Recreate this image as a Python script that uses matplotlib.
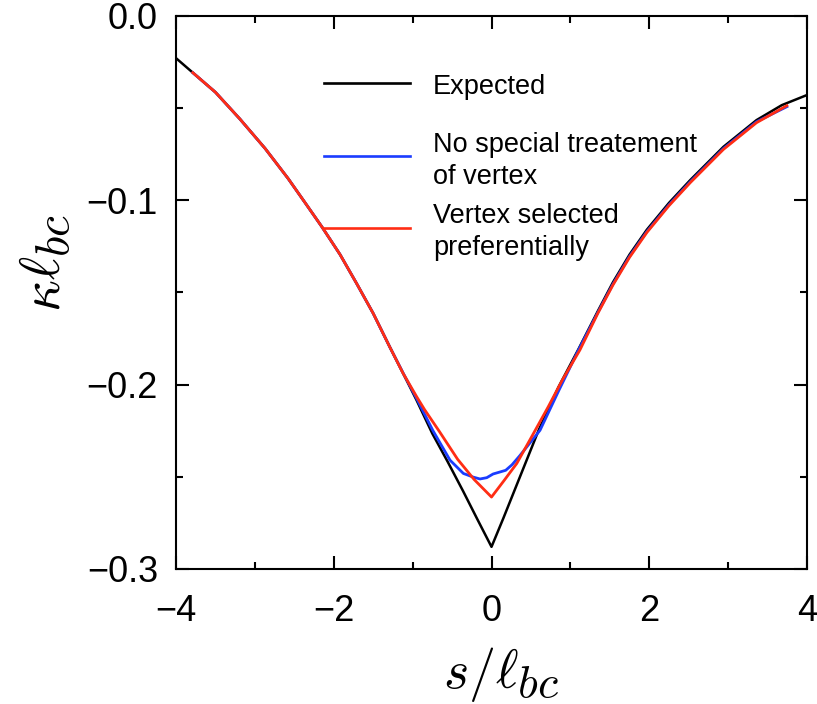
import matplotlib
matplotlib.use("Agg")
import matplotlib.pyplot as plt
import matplotlib._mathtext as _mt
from matplotlib.ticker import MultipleLocator, FixedLocator
from matplotlib.lines import Line2D

plt.rcParams['font.family'] = ['Liberation Sans', 'DejaVu Sans']
plt.rcParams['mathtext.fontset'] = 'cm'
_mt.SHRINK_FACTOR = 0.85  # larger subscripts, as in the reference

# ---- data ----
x_expected = [-4.0, -3.8, -3.5, -3.19, -2.87, -2.58, -2.37, -2.15, -1.92, -1.71, -1.50, -1.29,
              -1.12, -0.95, -0.75, -0.56, -0.36, -0.18, 0.0, 0.15, 0.3, 0.6, 0.85, 1.10, 1.35,
              1.54, 1.75, 1.97, 2.25, 2.52, 2.94, 3.36, 3.68, 4.0]
y_expected = [-0.023, -0.0304, -0.0415, -0.056, -0.072, -0.0882, -0.101, -0.1145, -0.1295, -0.1452,
              -0.1614, -0.1796, -0.194, -0.2085, -0.2266, -0.2415, -0.2578, -0.273, -0.288, -0.2725,
              -0.2565, -0.2245, -0.2013, -0.181, -0.160, -0.1445, -0.1295, -0.116, -0.1015, -0.0891,
              -0.0711, -0.0566, -0.0485, -0.043]

x_nospecial = [-3.8, -3.5, -3.19, -2.87, -2.58, -2.37, -2.15, -1.92, -1.71, -1.50, -1.29, -1.12,
               -0.95, -0.745, -0.526, -0.357, -0.231, -0.146, -0.06, 0.02, 0.10, 0.18, 0.26, 0.36,
               0.615, 0.85, 1.10, 1.35, 1.54, 1.75, 1.97, 2.25, 2.52, 2.94, 3.36, 3.76]
y_nospecial = [-0.0304, -0.0415, -0.056, -0.072, -0.0882, -0.101, -0.1145, -0.1295, -0.1452, -0.1614,
               -0.1796, -0.1938, -0.2075, -0.2248, -0.241, -0.2482, -0.2502, -0.2512, -0.2505, -0.2485,
               -0.2475, -0.2465, -0.2435, -0.2385, -0.2248, -0.2035, -0.1815, -0.1608, -0.1455, -0.1305,
               -0.117, -0.1025, -0.090, -0.072, -0.0575, -0.049]

x_vertex = [-3.8, -3.5, -3.19, -2.87, -2.58, -2.37, -2.15, -1.92, -1.71, -1.50, -1.29, -1.12,
            -0.95, -0.85, -0.66, -0.43, -0.22, 0.0, 0.16, 0.32, 0.50, 0.72, 0.90, 1.12, 1.35,
            1.54, 1.75, 1.97, 2.25, 2.52, 2.94, 3.36, 3.76]
y_vertex = [-0.0304, -0.0415, -0.056, -0.072, -0.0882, -0.101, -0.1145, -0.1295, -0.1452, -0.1614,
            -0.1796, -0.194, -0.2065, -0.2135, -0.2255, -0.2405, -0.2515, -0.261, -0.252, -0.2428,
            -0.229, -0.212, -0.1974, -0.1813, -0.1612, -0.146, -0.131, -0.1175, -0.103, -0.0905,
            -0.0725, -0.058, -0.0484]

labels = ["Expected", "No special treatement\nof vertex", "Vertex selected\npreferentially"]
colors = ["black", "#1a3cff", "#ff2d14"]

x_ticks = [-4, -2, 0, 2, 4]
y_ticks = [-0.3, -0.2, -0.1, 0.0]

# ---- figure ----
fig = plt.figure(figsize=(8.17, 7.04), dpi=100)
ax = fig.add_axes([0.2154, 0.1918, 0.7724, 0.7859])

kw = dict(solid_joinstyle='round', solid_capstyle='butt')
ax.plot(x_expected, y_expected, color=colors[0], lw=1.8, **kw)
ax.plot(x_nospecial, y_nospecial, color=colors[1], lw=2.0, **kw)
ax.plot(x_vertex, y_vertex, color=colors[2], lw=2.0, **kw)

ax.set_xlim(-4, 4)
ax.set_ylim(-0.3, 0.0)
ax.xaxis.set_major_locator(FixedLocator(x_ticks))
ax.yaxis.set_major_locator(FixedLocator(y_ticks))
ax.xaxis.set_minor_locator(MultipleLocator(1))
ax.yaxis.set_minor_locator(MultipleLocator(0.05))
ax.set_xticklabels([f"{v:d}".replace("-", "\u2212") for v in x_ticks])
ax.set_yticklabels([f"{v:.1f}".replace("-", "\u2212") if v != 0 else "0.0" for v in y_ticks])

for s in ax.spines.values():
    s.set_linewidth(1.5)
ax.tick_params(which='both', direction='in', top=True, right=True, width=1.5)
ax.tick_params(which='major', length=9.5, labelsize=26)
ax.tick_params(axis='x', which='major', pad=18)
ax.tick_params(axis='y', which='major', pad=13)
ax.tick_params(which='minor', length=5)

ax.set_xlabel(r'$s/\ell_{bc}$', fontsize=39, ha='center', va='center')
ax.xaxis.set_label_coords(0.515, -0.19)
ax.set_ylabel(r'$\kappa\ell_{bc}$', fontsize=40, ha='center', va='center', rotation=90)
ax.yaxis.set_label_coords(-0.2076, 0.553)

# ---- legend (drawn by hand, no frame) ----
line_y = [0.879, 0.747, 0.6169]
text_y = [0.8579, 0.6963, 0.5675]   # baseline of the last text line
for lab, col, ly, ty in zip(labels, colors, line_y, text_y):
    ax.add_line(Line2D([0.2346, 0.3708], [ly, ly], transform=ax.transAxes,
                       color=col, lw=1.9))
    ax.text(0.4073, ty, lab, transform=ax.transAxes, fontsize=19.5,
            ha='left', va='baseline', linespacing=1.28)

fig.savefig("out.png", dpi=100)
